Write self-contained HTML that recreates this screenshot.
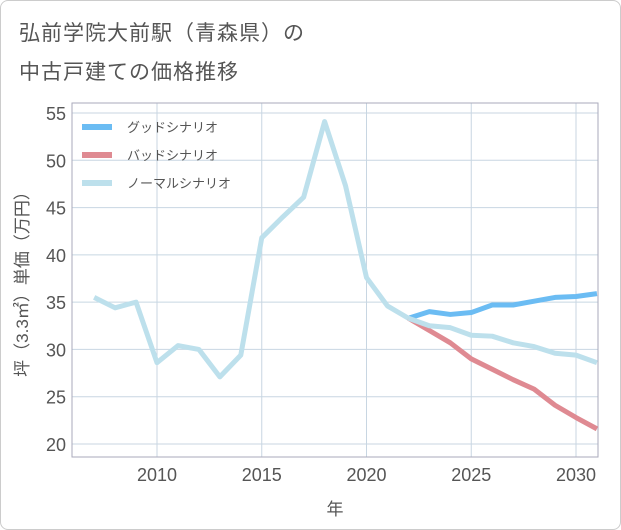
<!DOCTYPE html>
<html><head><meta charset="utf-8"><style>
body{margin:0;background:#fff;font-family:"Liberation Sans","Noto Sans CJK JP",sans-serif}
#wrap{position:relative;width:619px;height:528px;border:1px solid #ccc;border-radius:8px;overflow:hidden}
.title{position:absolute;left:18px;font-size:21px;color:#555;letter-spacing:1px}
</style></head><body>
<div id="wrap">
<div class="title" style="top:16px">弘前学院大前駅（青森県）の</div>
<div class="title" style="top:55px">中古戸建ての価格推移</div>
<svg id="chart" width="621" height="530" style="position:absolute;left:-1px;top:-1px"></svg>
</div>
<script>
const years=[2007,2008,2009,2010,2011,2012,2013,2014,2015,2016,2017,2018,2019,2020,2021,2022];
const hist=[35.5,34.4,35.0,28.6,30.4,30.0,27.1,29.4,41.8,44.0,46.1,54.1,47.3,37.6,34.6,33.3];
const fYears=[2022,2023,2024,2025,2026,2027,2028,2029,2030,2031];
const good=[33.3,34.0,33.7,33.9,34.7,34.7,35.1,35.5,35.6,35.9];
const bad=[33.3,32.0,30.7,29.0,27.9,26.8,25.8,24.1,22.8,21.6];
const normal=[33.3,32.5,32.3,31.5,31.4,30.7,30.3,29.6,29.4,28.6];
const yTicks=[20,25,30,35,40,45,50,55];
const xTicks=[2010,2015,2020,2025,2030];
const L=72,R=598,T=103,B=457;
const x=v=>157+(v-2010)*20.95;
const y=v=>444-(v-20)*(331/35);
const svg=document.getElementById('chart');
const NS='http://www.w3.org/2000/svg';
function mk(t,a,name){const e=document.createElementNS(NS,t);for(const k in a)e.setAttribute(k,a[k]);


svg.appendChild(e);return e;}
yTicks.forEach(v=>{mk('line',{x1:L,x2:R,y1:y(v),y2:y(v),stroke:'#c8d6e2','stroke-width':1},'y-gridline');
const t=mk('text',{x:66,y:y(v)+7,'text-anchor':'end','font-size':18,fill:'#555'},'y-tick-label');t.textContent=v;});
xTicks.forEach(v=>{mk('line',{x1:x(v),x2:x(v),y1:T,y2:B,stroke:'#c8d6e2','stroke-width':1},'x-gridline');
const t=mk('text',{x:x(v),y:481,'text-anchor':'middle','font-size':18,fill:'#555'},'x-tick-label');t.textContent=v;});
mk('rect',{x:L,y:T,width:R-L,height:B-T,fill:'none',stroke:'#aab','stroke-width':1},'plot-border');
const xt=mk('text',{x:335,y:515,'text-anchor':'middle','font-size':17,fill:'#555'},'x-axis-title');xt.textContent='年';
const yt=mk('text',{x:0,y:0,'text-anchor':'middle','font-size':17,fill:'#555',transform:'translate(28,280) rotate(-90)'},'y-axis-title');yt.textContent='坪（3.3㎡）単価（万円）';
function line(xs,vs,c,name){mk('polyline',{points:xs.map((d,i)=>x(d)+','+y(vs[i])).join(' '),fill:'none',stroke:c,'stroke-width':5,'stroke-linejoin':'round'},name);}
line(fYears,good,'#6bbcf3','good-scenario-line');
line(fYears,bad,'#df8a92','bad-scenario-line');
line(fYears,normal,'#bde0ec','normal-scenario-line');
line(years,hist,'#bde0ec','historical-line');
[['グッドシナリオ','#6bbcf3',127],['バッドシナリオ','#df8a92',155],['ノーマルシナリオ','#bde0ec',183]].forEach(l=>{
mk('line',{x1:82,x2:112,y1:l[2],y2:l[2],stroke:l[1],'stroke-width':6},'legend-swatch');
const t=mk('text',{x:127,y:l[2]+5,'font-size':13,fill:'#555'},'legend-label');t.textContent=l[0];});
</script>
</body></html>
